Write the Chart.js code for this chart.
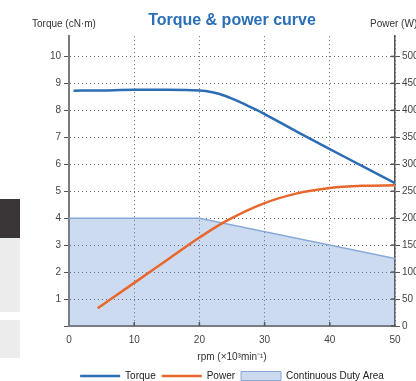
<!DOCTYPE html>
<html>
<head>
<meta charset="utf-8">
<script src="https://cdn.jsdelivr.net/npm/chart.js@4"></script>
<style>
  html, body { margin: 0; padding: 0; background: #fff; overflow: hidden; }
  #wrap { position: relative; width: 416px; height: 381px; overflow: hidden; }
  #wrap canvas { position: absolute; left: 0; top: 0; }
  .tab { position: absolute; left: 0; width: 20px; }
</style>
</head>
<body>
<div id="wrap">
  <div class="tab" style="top:199px;height:39px;background:#3a3537"></div>
  <div class="tab" style="top:238px;height:74px;background:#ececec"></div>
  <div class="tab" style="top:320px;height:38px;background:#ececec"></div>
  <canvas id="torqueChart" width="430" height="391"></canvas>
</div>
<script>
// values
const rpmTorque = [0.7, 5, 10, 15, 20, 22, 24, 26, 28, 30, 35, 40, 45, 50];
const torque = [8.73, 8.74, 8.76, 8.76, 8.74, 8.67, 8.53, 8.33, 8.1, 7.86, 7.2, 6.56, 5.93, 5.3];

const rpmPower = [4.4, 10, 15, 20, 24, 30, 35, 40, 45, 50];
const power = [33, 80, 122, 164, 194, 228, 246, 256, 260, 261];

const rpmDuty = [0, 20, 50];
const dutyTorque = [4, 4, 2.5];

const seriesNames = ['Torque', 'Power', 'Continuous Duty Area'];

function toPoints(xs, ys) {
    return xs.map((v, i) => ({ x: v, y: ys[i] }));
}

Chart.defaults.font.family = '"Liberation Sans", Arial, Helvetica, sans-serif';
Chart.defaults.font.size = 10;
Chart.defaults.color = '#444';

// axis captions above the y axes and the small inner tick marks
const axisExtras = {
    id: 'axisExtras',
    afterDraw(chart) {
        const { ctx, chartArea, scales } = chart;
        ctx.save();
        ctx.font = '10px "Liberation Sans", Arial, sans-serif';
        ctx.fillStyle = '#333';
        ctx.textBaseline = 'middle';
        ctx.textAlign = 'left';
        ctx.fillText('Torque (cN·m)', chartArea.left - 37, chartArea.top - 12);
        ctx.fillText('Power (W)', chartArea.right - 25, chartArea.top - 12);

        ctx.strokeStyle = '#555';
        ctx.lineWidth = 1.5;
        scales.x.ticks.forEach(t => {
            if (t.value === scales.x.min || t.value === scales.x.max) return;
            const px = scales.x.getPixelForValue(t.value);
            ctx.beginPath();
            ctx.moveTo(px, chartArea.bottom);
            ctx.lineTo(px, chartArea.bottom - 4);
            ctx.stroke();
        });
        scales.y1.ticks.forEach(t => {
            const py = scales.y1.getPixelForValue(t.value);
            ctx.beginPath();
            ctx.moveTo(chartArea.right - 4, py);
            ctx.lineTo(chartArea.right, py);
            ctx.stroke();
        });
        ctx.restore();
    }
};

let ctx = document.getElementById('torqueChart').getContext('2d');
let myChart = new Chart(ctx, {
    type: 'line',
    data: {
        datasets: [{
            label: seriesNames[0],
            data: toPoints(rpmTorque, torque),
            yAxisID: 'y',
            borderColor: '#2c6db3',
            backgroundColor: '#2c6db3',
            borderWidth: 2.5,
            pointRadius: 0,
            cubicInterpolationMode: 'monotone',
            fill: false
        },
        {
            label: seriesNames[1],
            data: toPoints(rpmPower, power),
            yAxisID: 'y1',
            borderColor: '#e8672c',
            backgroundColor: '#e8672c',
            borderWidth: 2.5,
            pointRadius: 0,
            cubicInterpolationMode: 'monotone',
            fill: false
        },
        {
            label: seriesNames[2],
            data: toPoints(rpmDuty, dutyTorque),
            yAxisID: 'y',
            borderColor: '#88aadb',
            backgroundColor: 'rgba(95, 140, 205, 0.31)',
            borderWidth: 1.5,
            pointRadius: 0,
            tension: 0,
            fill: 'origin'
        }]
    },
    options: {
        responsive: false,
        animation: false,
        layout: { padding: 0 },
        plugins: {
            title: {
                display: true,
                text: 'Torque & power curve',
                color: '#2a6fb7',
                fullSize: false,
                font: { size: 16, weight: 'bold' },
                padding: { top: 11, bottom: 6 }
            },
            legend: {
                position: 'bottom',
                fullSize: false,
                labels: {
                    usePointStyle: true,
                    pointStyleWidth: 40,
                    boxHeight: 9,
                    padding: 6,
                    color: '#222',
                    font: { size: 10 },
                    generateLabels: function (chart) {
                        return chart.data.datasets.map((ds, i) => ({
                            text: ds.label,
                            datasetIndex: i,
                            fillStyle: i < 2 ? ds.borderColor : '#cddaee',
                            strokeStyle: ds.borderColor,
                            lineWidth: i < 2 ? 2.5 : 1,
                            pointStyle: i < 2 ? 'line' : 'rect',
                            fontColor: '#222',
                            hidden: false
                        }));
                    }
                }
            },
            tooltip: { enabled: false }
        },
        scales: {
            x: {
                type: 'linear',
                min: 0,
                max: 50,
                afterFit: function (scale) { scale.height = 39; },
                ticks: { stepSize: 10, padding: 8, color: '#444' },
                grid: { color: '#666', drawTicks: false },
                border: { color: '#7a7a7a', width: 2, dash: [1, 3] },
                title: {
                    display: true,
                    text: 'rpm (×10³min⁻¹)',
                    color: '#333',
                    font: { size: 10 },
                    padding: { top: 0, bottom: 2 }
                }
            },
            y: {
                type: 'linear',
                position: 'left',
                min: 0,
                max: 10.75,
                afterFit: function (scale) { scale.width = 69; },
                ticks: {
                    stepSize: 1,
                    includeBounds: false,
                    padding: 3,
                    color: '#444',
                    callback: function (value) {
                        return value === 0 ? '' : value;  // no 0 on the torque side
                    }
                },
                grid: { color: '#666', tickColor: '#555', tickLength: 5, tickBorderDash: [] },
                border: { color: '#7a7a7a', width: 2, dash: [1, 3] }
            },
            y1: {
                type: 'linear',
                position: 'right',
                min: 0,
                max: 537.5,
                afterFit: function (scale) { scale.width = 35; },
                ticks: { stepSize: 50, includeBounds: false, padding: 2, color: '#444' },
                grid: { drawOnChartArea: false, tickColor: '#555', tickLength: 5 },
                border: { color: '#555', width: 1.5 }
            }
        }
    },
    plugins: [axisExtras]
});
</script>
</body>
</html>
